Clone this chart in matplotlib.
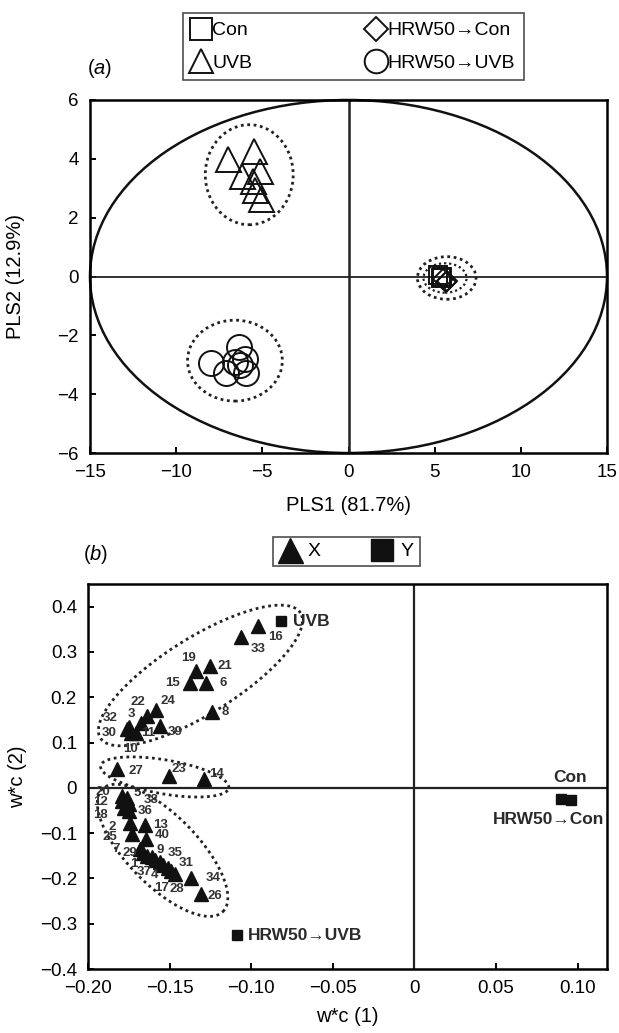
import numpy as np
import matplotlib
matplotlib.use("Agg")
import matplotlib.pyplot as plt
from matplotlib.patches import Ellipse
from matplotlib.lines import Line2D

plt.rcParams['font.family'] = ['Liberation Sans', 'DejaVu Sans']
plt.rcParams['mathtext.fontset'] = 'custom'
plt.rcParams['mathtext.it'] = 'Liberation Sans:italic'
plt.rcParams['mathtext.rm'] = 'Liberation Sans'

# ---- panel (a): PLS scores ----
con_x = [5.2, 5.35, 5.45]
con_y = [0.05, -0.05, 0.0]
hrw_con_x = [5.5, 5.65, 5.7]
hrw_con_y = [-0.1, -0.2, -0.15]
uvb_x = [-7.0, -5.5, -5.15, -6.2, -5.55, -5.4, -5.1]
uvb_y = [4.0, 4.25, 3.6, 3.43, 3.24, 2.95, 2.62]
hrw_uvb_x = [-7.95, -6.35, -7.08, -6.02, -5.92, -6.31, -6.6]
hrw_uvb_y = [-2.93, -2.38, -3.29, -2.79, -3.29, -3.0, -2.89]

# ---- panel (b): loadings ----
x_ids = list(range(1, 41))
x_load1 = [-0.164, -0.174, -0.1677, -0.154, -0.176, -0.1274, -0.168, -0.124,
           -0.161, -0.1738, -0.1707, -0.179, -0.165, -0.1287, -0.1376, -0.096,
           -0.149, -0.178, -0.134, -0.179, -0.125, -0.164, -0.1504, -0.1585,
           -0.173, -0.131, -0.1823, -0.147, -0.166, -0.176, -0.151, -0.1748,
           -0.106, -0.1368, -0.156, -0.175, -0.159, -0.175, -0.156, -0.1646]
x_load2 = [-0.150, -0.078, 0.1435, -0.170, -0.022, 0.231, -0.135, 0.168,
           -0.152, 0.121, 0.1216, -0.030, -0.081, 0.019, 0.231, 0.358,
           -0.183, -0.045, 0.259, -0.018, 0.268, 0.158, 0.025, 0.171,
           -0.103, -0.235, 0.041, -0.190, -0.145, 0.130, -0.176, 0.135,
           0.334, -0.200, -0.163, -0.052, -0.160, -0.035, 0.137, -0.114]

y_names = ['UVB', 'Con', 'HRW50\u2192Con', 'HRW50\u2192UVB']
y_load1 = [-0.082, 0.090, 0.096, -0.1087]
y_load2 = [0.368, -0.024, -0.026, -0.325]

# label offsets for numbers (pixels, +y up)
num_off = {1: (-13, -8), 2: (-18, -4), 3: (-9, 9), 4: (-9, -10), 5: (10, 5), 6: (17, 0),
           7: (-24, 0), 8: (13, 0), 9: (9, 7), 10: (0, -16), 11: (12, 0), 12: (-22, -1),
           13: (15, 0), 14: (12, 5), 15: (-17, 0), 16: (18, -11), 17: (-10, -17),
           18: (-23, -7), 19: (-7, 13), 20: (-19, 4), 21: (14, 0), 22: (-9, 14),
           23: (10, 8), 24: (12, 9), 25: (-22, -3), 26: (14, -2), 27: (19, -2),
           28: (2, -15), 29: (-14, 0), 30: (-18, -4), 31: (18, 5), 32: (-19, 9),
           33: (17, -12), 34: (22, 0), 35: (15, 9), 36: (16, 0), 37: (-11, -12),
           38: (22, 4), 39: (15, -6), 40: (16, 4)}

fig = plt.figure(figsize=(6.19, 10.33), dpi=100)
W, H = 619, 1033

dots = (0, (1, 1.3))


def style_axes(ax):
    for s in ax.spines.values():
        s.set_linewidth(1.8)
    ax.tick_params(direction='in', length=4, width=1.4, labelsize=13.5, pad=8)


def dotted_ellipse(ax, cx, cy, a_px, b_px, ang):
    # ellipse given in screen pixels, converted to data units of ax
    x0, x1 = ax.get_xlim()
    y0, y1 = ax.get_ylim()
    kx = ax.bbox.width / (x1 - x0)
    ky = ax.bbox.height / (y1 - y0)
    t = np.linspace(0, 2 * np.pi, 300)
    th = np.radians(ang)
    dx = a_px * np.cos(t) * np.cos(th) - b_px * np.sin(t) * np.sin(th)
    dy = a_px * np.cos(t) * np.sin(th) + b_px * np.sin(t) * np.cos(th)
    ax.plot(cx + dx / kx, cy + dy / ky, color='#222222', lw=2.0, ls=dots)


# ================= panel (a) =================
ax1 = fig.add_axes([90 / W, 1 - 453 / H, 517 / W, 353 / H])
ax1.set_xlim(-15, 15)
ax1.set_ylim(-6, 6)
ax1.axhline(0, color='#222222', lw=1.3)
ax1.axvline(0, color='#222222', lw=1.8)
ax1.add_patch(Ellipse((0, 0), 30, 12, fill=False, ec='#111111', lw=1.8, clip_on=False))
ax1.add_patch(Ellipse((-5.76, 3.46), 5.1, 3.4, fill=False, ec='#222222', lw=2.0, ls=dots))
ax1.add_patch(Ellipse((-6.59, -2.86), 5.5, 2.75, fill=False, ec='#222222', lw=2.0, ls=dots))
ax1.add_patch(Ellipse((5.7, -0.05), 3.4, 1.45, fill=False, ec='#222222', lw=2.0, ls=dots))
ax1.add_patch(Ellipse((5.6, -0.05), 2.5, 1.0, fill=False, ec='#222222', lw=1.6, ls=dots))

mk = dict(ls='none', mfc='none', mec='#111111', mew=1.4)
ax1.plot(uvb_x, uvb_y, marker='^', ms=18, **mk)
ax1.plot(hrw_uvb_x, hrw_uvb_y, marker='o', ms=18, **mk)
ax1.plot(con_x, con_y, marker='s', ms=13, **mk)
ax1.plot(hrw_con_x, hrw_con_y, marker='D', ms=10, **mk)

ax1.set_xticks([-15, -10, -5, 0, 5, 10, 15])
ax1.set_yticks([-6, -4, -2, 0, 2, 4, 6])
style_axes(ax1)
ax1.set_xlabel('PLS1 (81.7%)', fontsize=14.5)
ax1.set_ylabel('PLS2 (12.9%)', fontsize=14.5)
ax1.xaxis.set_label_coords(0.5, -0.122)
ax1.yaxis.set_label_coords(-0.126, 0.5)

handles_a = [
    Line2D([], [], marker='s', ms=16, label='Con', **mk),
    Line2D([], [], marker='^', ms=17, label='UVB', **mk),
    Line2D([], [], marker='D', ms=12, label='HRW50\u2192Con', **mk),
    Line2D([], [], marker='o', ms=17, label='HRW50\u2192UVB', **mk),
]
fig.legend(handles=handles_a, ncol=2, loc='upper left',
           bbox_to_anchor=(183 / W, 1 - 13 / H), fontsize=14, frameon=True,
           fancybox=False, edgecolor='#222222', borderpad=0.45, borderaxespad=0,
           handlelength=0.9, handletextpad=0.15, columnspacing=5.9,
           labelspacing=0.75).get_frame().set_linewidth(1.2)
fig.text(100 / W, 1 - 68 / H, r'($\mathit{a}$)', fontsize=14.5, ha='center', va='center')

# ================= panel (b) =================
ax2 = fig.add_axes([88 / W, 1 - 969 / H, 519 / W, 385 / H])
ax2.set_xlim(-0.2, 0.118)
ax2.set_ylim(-0.4, 0.45)
ax2.axhline(0, color='#222222', lw=1.6)
ax2.axvline(0, color='#222222', lw=1.6)

dotted_ellipse(ax2, -0.1311, 0.248, 118, 38, 32)
dotted_ellipse(ax2, -0.153, 0.024, 65, 17, -9.8)
dotted_ellipse(ax2, -0.1543, -0.138, 86, 35, -45.5)

ax2.plot(x_load1, x_load2, ls='none', marker='^', ms=9.5, color='#111111')
ax2.plot(y_load1, y_load2, ls='none', marker='s', ms=7.5, color='#111111')

for i, px, py in zip(x_ids, x_load1, x_load2):
    ox, oy = num_off[i]
    ax2.annotate(str(i), (px, py), xytext=(ox * 0.72, oy * 0.72),
                 textcoords='offset points', ha='center', va='center',
                 fontsize=9.5, fontweight='bold', color='#333333')

y_lab_pos = {'UVB': ((9, 0), 'left'), 'Con': ((6.5, 15), 'center'),
             'HRW50\u2192Con': ((24, -14), 'right'),
             'HRW50\u2192UVB': ((8, 0), 'left')}
for name, px, py in zip(y_names, y_load1, y_load2):
    (ox, oy), ha = y_lab_pos[name]
    ax2.annotate(name, (px, py), xytext=(ox, oy), textcoords='offset points',
                 ha=ha, va='center', fontsize=12.5, fontweight='bold', color='#2a2a2a')

ax2.set_xticks([-0.2, -0.15, -0.1, -0.05, 0, 0.05, 0.1])
ax2.set_xticklabels(['\u22120.20', '\u22120.15', '\u22120.10', '\u22120.05', '0', '0.05', '0.10'])
ax2.set_yticks([-0.4, -0.3, -0.2, -0.1, 0, 0.1, 0.2, 0.3, 0.4])
ax2.set_yticklabels(['\u22120.4', '\u22120.3', '\u22120.2', '\u22120.1', '0', '0.1', '0.2', '0.3', '0.4'])
style_axes(ax2)
ax2.set_xlabel('w*c (1)', fontsize=14.5)
ax2.set_ylabel('w*c (2)', fontsize=14.5)
ax2.xaxis.set_label_coords(0.5, -0.098)
ax2.yaxis.set_label_coords(-0.118, 0.5)

handles_b = [
    Line2D([], [], ls='none', marker='^', ms=18, color='#111111', label='X'),
    Line2D([], [], ls='none', marker='s', ms=16, color='#111111', label='Y'),
]
fig.legend(handles=handles_b, ncol=2, loc='upper left',
           bbox_to_anchor=(273 / W, 1 - 537 / H), fontsize=14, frameon=True,
           fancybox=False, edgecolor='#222222', borderpad=0.3, borderaxespad=0,
           handlelength=1.1, handletextpad=0.4, columnspacing=2.6
           ).get_frame().set_linewidth(1.2)
fig.text(96 / W, 1 - 555 / H, r'($\mathit{b}$)', fontsize=14.5, ha='center', va='center')

fig.savefig('out.png', dpi=100)
